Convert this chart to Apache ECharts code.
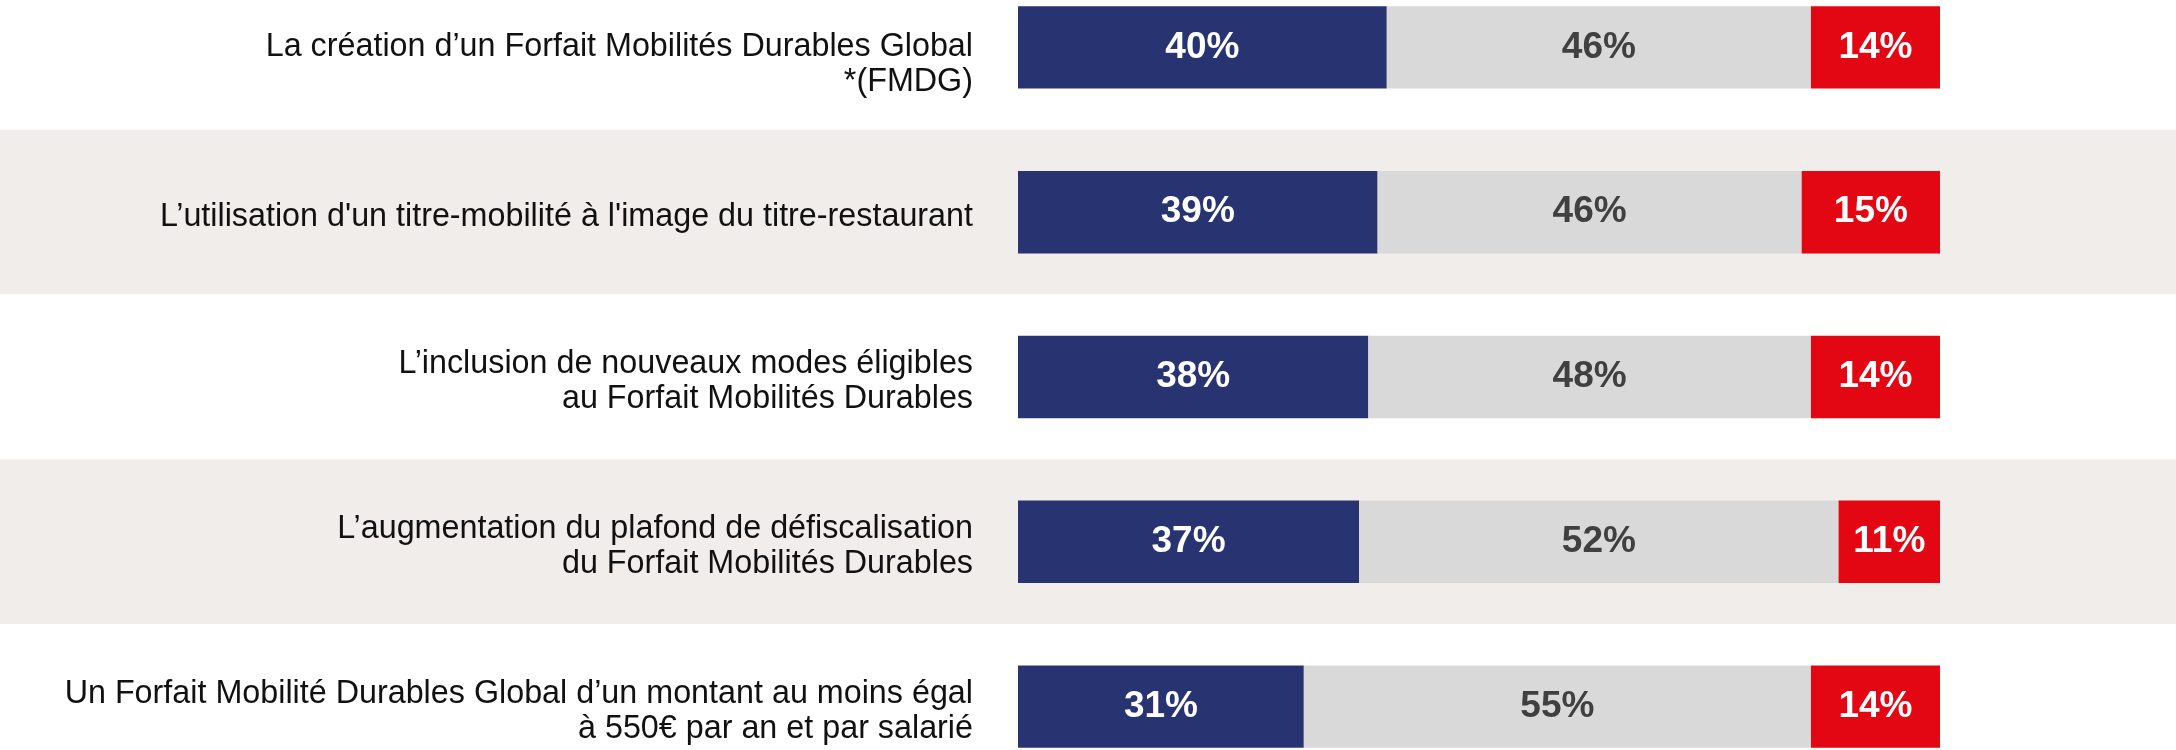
<!DOCTYPE html>
<html>
<head>
<meta charset="utf-8">
<script src="https://cdn.jsdelivr.net/npm/echarts@6/dist/echarts.min.js"></script>
<style>
  html, body { margin: 0; padding: 0; background: #fff; overflow: hidden; }
  #wrap { position: relative; width: 2176px; height: 750px; overflow: hidden; }
  /* the chart is taller than the view: the first and last bands are cut */
  #main { position: absolute; left: 0; top: -35px; width: 2176px; height: 824px; }
</style>
</head>
<body>
<div id="wrap"><div id="main"></div></div>
<script>
var categories = [
	'La création d\u2019un Forfait Mobilités Durables Global\n*(FMDG)',
	'L\u2019utilisation d\'un titre-mobilité à l\'image du titre-restaurant',
	'L\u2019inclusion de nouveaux modes éligibles\nau Forfait Mobilités Durables',
	'L\u2019augmentation du plafond de défiscalisation\ndu Forfait Mobilités Durables',
	'Un Forfait Mobilité Durables Global d\u2019un montant au moins égal\nà 550€ par an et par salarié'
];
var navyValues = [40, 39, 38, 37, 31];
var greyValues = [46, 46, 48, 52, 55];
var redValues = [14, 15, 14, 11, 14];

// bars run from x=1018 to x=1940 for 0..100 %
var barLeft = 1018;
var pxPer = (1940 - barLeft) / 100;
var fontFam = '"Liberation Sans", Arial, Helvetica, sans-serif';

var myChart = echarts.init(document.getElementById('main'));

function barLabel(color) {
	return {
		show: true,
		position: 'inside',
		formatter: '{c}%',
		color: color,
		fontSize: 37,
		fontWeight: 'bold',
		fontFamily: fontFam
	};
}

myChart.setOption({
	animation: false,
	backgroundColor: '#ffffff',
	grid: {
		left: 0,
		right: 0,
		top: 0,
		bottom: 0
	},
	xAxis: {
		type: 'value',
		min: -barLeft / pxPer,
		max: (2176 - barLeft) / pxPer,
		show: false
	},
	yAxis: {
		type: 'category',
		inverse: true,
		data: categories,
		axisLine: { show: false },
		axisTick: { show: false },
		splitLine: { show: false },
		splitArea: {
			show: true,
			areaStyle: { color: ['#ffffff', '#F0EDEA'] }
		},
		axisLabel: {
			inside: true,
			interval: 0,
			margin: 973,
			align: 'right',
			padding: [10, 0, 0, 0],
			fontSize: 32.3,
			lineHeight: 35,
			color: '#111111',
			fontFamily: fontFam,
			// first label sits a little lower in the original
			formatter: function (v, i) {
				return i === 0 ? '{s| }\n' + v : v;
			},
			rich: {
				s: { lineHeight: 25, fontSize: 10 }
			}
		}
	},
	series: [
		{
			name: 'navy',
			type: 'bar',
			stack: 'total',
			barWidth: '50%',
			itemStyle: { color: '#283471' },
			label: barLabel('#ffffff'),
			data: navyValues
		},
		{
			name: 'grey',
			type: 'bar',
			stack: 'total',
			itemStyle: { color: '#D9D9D9' },
			label: barLabel('#404040'),
			data: greyValues
		},
		{
			name: 'red',
			type: 'bar',
			stack: 'total',
			itemStyle: { color: '#E30613' },
			label: barLabel('#ffffff'),
			data: redValues
		}
	]
});
</script>
</body>
</html>
